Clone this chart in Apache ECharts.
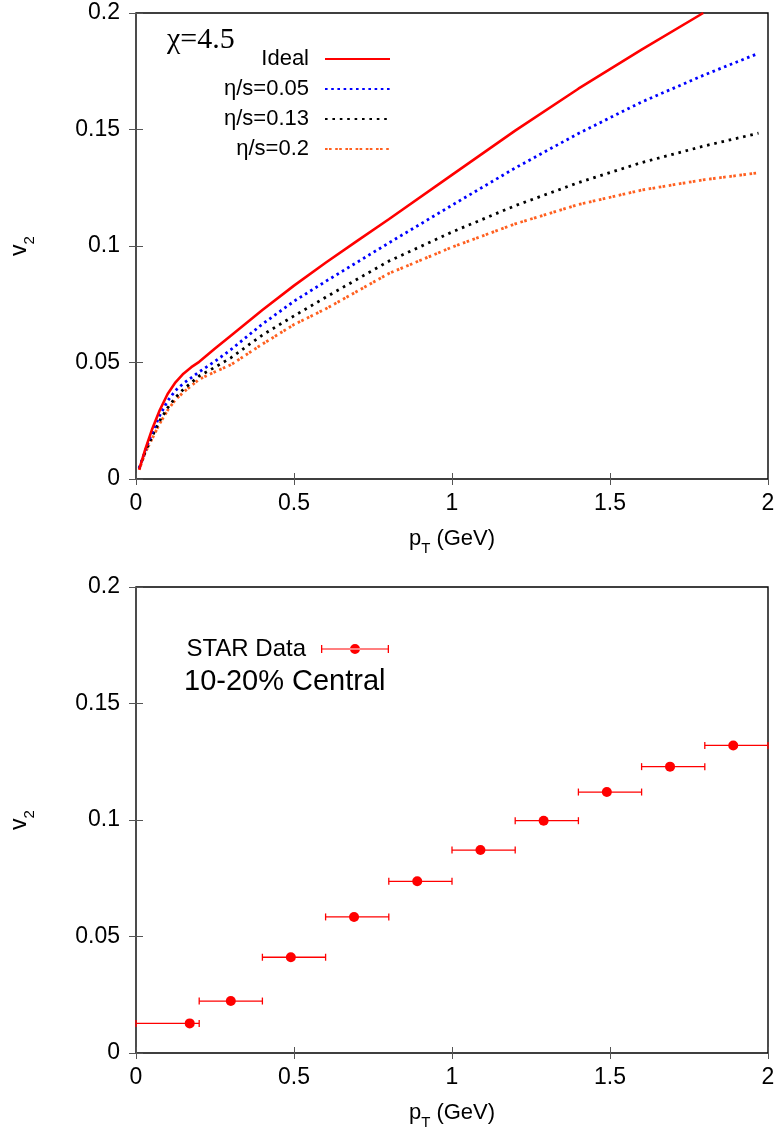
<!DOCTYPE html>
<html>
<head>
<meta charset="utf-8">
<script src="https://cdn.jsdelivr.net/npm/echarts@6/dist/echarts.min.js"></script>
<style>
html,body{margin:0;padding:0;background:#fff;}
#chart{width:780px;height:1135px;}
</style>
</head>
<body>
<div id="chart"></div>
<script>
// ---------- Data ----------
const idealPT = [0.01, 0.03, 0.05, 0.075, 0.1, 0.125, 0.15, 0.175, 0.2, 0.25, 0.3, 0.4, 0.5, 0.6, 0.7, 0.8, 1.0, 1.2, 1.4, 1.6, 1.795];
const idealV2 = [0.004, 0.013, 0.021, 0.0295, 0.0365, 0.0415, 0.0452, 0.048, 0.0503, 0.056, 0.0615, 0.0725, 0.083, 0.0928, 0.1022, 0.1115, 0.1305, 0.1495, 0.1675, 0.1843, 0.2];

const viscPT = [0.01, 0.03, 0.05, 0.075, 0.1, 0.125, 0.15, 0.2, 0.25, 0.3, 0.4, 0.5, 0.6, 0.8, 1.0, 1.2, 1.4, 1.6, 1.8, 1.97];
const visc005V2 = [0.0045, 0.0125, 0.0195, 0.0272, 0.0335, 0.038, 0.041, 0.046, 0.0505, 0.0555, 0.0665, 0.0763, 0.0848, 0.1013, 0.1175, 0.1335, 0.1483, 0.1618, 0.1735, 0.1827];
const visc013V2 = [0.0045, 0.012, 0.018, 0.025, 0.0305, 0.035, 0.0385, 0.0442, 0.048, 0.052, 0.0618, 0.070, 0.078, 0.0935, 0.106, 0.1173, 0.1272, 0.1358, 0.143, 0.1484];
const visc02V2  = [0.004, 0.0115, 0.017, 0.0238, 0.0295, 0.034, 0.0372, 0.0428, 0.046, 0.049, 0.0579, 0.0663, 0.073, 0.0882, 0.0995, 0.1095, 0.1178, 0.124, 0.1285, 0.1314];

const starPT   = [0.17, 0.30, 0.49, 0.69, 0.89, 1.09, 1.29, 1.49, 1.69, 1.89];
const starV2   = [0.0127, 0.0223, 0.0411, 0.0584, 0.0737, 0.0871, 0.0997, 0.112, 0.1229, 0.132];
const starLow  = [0.0, 0.2, 0.4, 0.6, 0.8, 1.0, 1.2, 1.4, 1.6, 1.8];
const starHigh = [0.2, 0.4, 0.6, 0.8, 1.0, 1.2, 1.4, 1.6, 1.8, 2.0];

const xTicks = [0, 0.5, 1, 1.5, 2];
const yTicks = [0, 0.05, 0.1, 0.15, 0.2];

const seriesNames = ['Ideal', 'η/s=0.05', 'η/s=0.13', 'η/s=0.2'];
const chiLabel = 'χ=4.5';
const starName = 'STAR Data';
const centralityLabel = '10-20% Central';

// ---------- Styling ----------
const FONT = '"Liberation Sans", Arial, sans-serif';
const tickColor = '#555';

function pairs(xs, ys) { return xs.map((x, i) => [x, ys[i]]); }

function xAxisPair(gi) {
  return [
    {
      type: 'value', gridIndex: gi, position: 'bottom', min: xTicks[0], max: xTicks[xTicks.length - 1], interval: 0.5,
      axisLine: {show: false},
      axisTick: {inside: true, length: 6, lineStyle: {color: tickColor}},
      splitLine: {show: false},
      axisLabel: {fontFamily: FONT, fontSize: 23, color: '#000', margin: 13,
        formatter: v => String(v)},
      name: '{p|p}{s|T}{p| (GeV)}', nameLocation: 'middle', nameGap: 43,
      nameTextStyle: {fontFamily: FONT, color: '#000',
        rich: {
          p: {fontFamily: FONT, fontSize: 22, color: '#000', lineHeight: 34, verticalAlign: 'middle'},
          s: {fontFamily: FONT, fontSize: 15, color: '#000', lineHeight: 34, verticalAlign: 'bottom'}
        }}
    },
    {
      type: 'value', gridIndex: gi, position: 'top', min: xTicks[0], max: xTicks[xTicks.length - 1], interval: 0.5,
      axisLine: {show: false},
      axisTick: {inside: true, length: 6, lineStyle: {color: tickColor}},
      splitLine: {show: false},
      axisLabel: {show: false}
    }
  ];
}
function yAxisPair(gi) {
  return [
    {
      type: 'value', gridIndex: gi, position: 'left', min: yTicks[0], max: yTicks[yTicks.length - 1], interval: 0.05,
      axisLine: {show: false},
      axisTick: {inside: true, length: 7, lineStyle: {color: tickColor}},
      splitLine: {show: false},
      axisLabel: {fontFamily: FONT, fontSize: 23, color: '#000', margin: 16,
        formatter: v => String(+v.toFixed(2))},
      name: '{p|v}{s|2}', nameLocation: 'middle', nameGap: 99, nameRotate: 90,
      nameTextStyle: {fontFamily: FONT, color: '#000',
        rich: {
          p: {fontFamily: FONT, fontSize: 23, color: '#000', lineHeight: 34, verticalAlign: 'middle'},
          s: {fontFamily: FONT, fontSize: 15, color: '#000', lineHeight: 34, verticalAlign: 'bottom'}
        }}
    },
    {
      type: 'value', gridIndex: gi, position: 'right', min: yTicks[0], max: yTicks[yTicks.length - 1], interval: 0.05,
      axisLine: {show: false},
      axisTick: {inside: true, length: 7, lineStyle: {color: tickColor}},
      splitLine: {show: false},
      axisLabel: {show: false}
    }
  ];
}

const lineColors = ['#ff0000', '#0000ff', '#000000', '#ff6020'];
const lineDashes = ['solid', [2.6, 3.6], [2.6, 4.8], [2.6, 1.4, 2.6, 3.6]];
const lineWidths = [2.6, 2.8, 2.8, 2.8];
const lineData = [pairs(idealPT, idealV2), pairs(viscPT, visc005V2), pairs(viscPT, visc013V2), pairs(viscPT, visc02V2)];

const lineSeries = seriesNames.map((name, i) => ({
  name: name, type: 'line', xAxisIndex: 0, yAxisIndex: 0,
  data: lineData[i], symbol: 'none', showSymbol: false, smooth: false,
  lineStyle: {color: lineColors[i], width: lineWidths[i], type: lineDashes[i]},
  itemStyle: {color: lineColors[i]},
  z: 10 - i, animation: false
}));

const starBars = starPT.map((x, i) => [x, starLow[i], starHigh[i], starV2[i]]);

const errorSeries = {
  name: starName, type: 'custom', xAxisIndex: 2, yAxisIndex: 2,
  data: starBars, encode: {x: 0, y: 3},
  itemStyle: {color: '#ff0000'},
  clip: false, animation: false,
  renderItem: function (params, api) {
    const y = api.value(3);
    const a = api.coord([api.value(1), y]);
    const b = api.coord([api.value(2), y]);
    const cap = 3.5;
    const st = {stroke: '#ff0000', lineWidth: 1.3, fill: null};
    return {
      type: 'group',
      children: [
        {type: 'line', shape: {x1: a[0], y1: a[1], x2: b[0], y2: b[1]}, style: st},
        {type: 'line', shape: {x1: a[0], y1: a[1] - cap, x2: a[0], y2: a[1] + cap}, style: st},
        {type: 'line', shape: {x1: b[0], y1: b[1] - cap, x2: b[0], y2: b[1] + cap}, style: st}
      ]
    };
  }
};
const pointSeries = {
  name: 'STAR points', type: 'scatter', xAxisIndex: 2, yAxisIndex: 2,
  data: pairs(starPT, starV2), symbol: 'circle', symbolSize: 10,
  itemStyle: {color: '#ff0000', opacity: 1}, z: 5, animation: false
};

const errIcon = 'path://M0,4.4H68V5.6H0Z M0,1H1.3V9H0Z M66.7,1H68V9H66.7Z M29,5A5,5 0 1,0 39,5A5,5 0 1,0 29,5Z';

const option = {
  backgroundColor: '#fff',
  animation: false,
  grid: [
    {left: 136, top: 13, width: 632, height: 466, show: true, borderColor: '#000', borderWidth: 1.4, backgroundColor: 'transparent'},
    {left: 136, top: 587, width: 632, height: 466, show: true, borderColor: '#000', borderWidth: 1.4, backgroundColor: 'transparent'}
  ],
  xAxis: [...xAxisPair(0), ...xAxisPair(1)],
  yAxis: [...yAxisPair(0), ...yAxisPair(1)],
  legend: [
    {
      data: seriesNames, orient: 'vertical', align: 'right', right: 389, top: 47,
      padding: 0, itemGap: 6, itemWidth: 65, itemHeight: 14, selectedMode: false,
      itemStyle: {color: 'rgba(0,0,0,0)', borderWidth: 0, opacity: 0},
      textStyle: {fontFamily: FONT, fontSize: 22, color: '#000', lineHeight: 24, padding: [0, 11, 0, 0]}
    },
    {
      data: [{name: starName, icon: errIcon}], orient: 'vertical', align: 'right', right: 391, top: 636,
      padding: 0, itemWidth: 68, itemHeight: 11, selectedMode: false,
      itemStyle: {color: '#ff0000', borderWidth: 0},
      textStyle: {fontFamily: FONT, fontSize: 24, color: '#000', lineHeight: 26, padding: [0, 10, 0, 0]}
    }
  ],
  graphic: [
    {type: 'text', left: 167, top: 25, style: {text: chiLabel, fontFamily: '"Liberation Serif", "Times New Roman", serif', fontSize: 30, fill: '#000'}},
    {type: 'text', left: 184, top: 667, style: {text: centralityLabel, fontFamily: FONT, fontSize: 29, fill: '#000'}}
  ],
  series: [...lineSeries, errorSeries, pointSeries]
};

const chart = echarts.init(document.getElementById('chart'), null, {renderer: 'canvas'});
chart.setOption(option);
</script>
</body>
</html>
